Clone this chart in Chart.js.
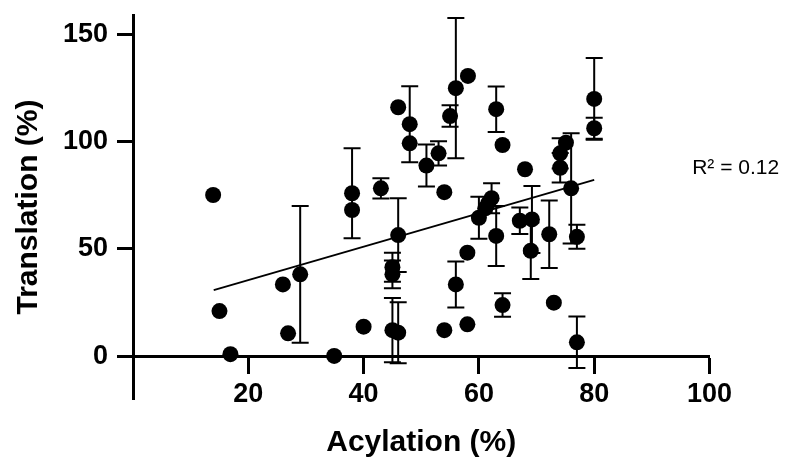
<!DOCTYPE html>
<html>
<head>
<meta charset="utf-8">
<script src="https://cdn.jsdelivr.net/npm/chart.js@4.4.1/dist/chart.umd.min.js"></script>
<style>
  html, body { margin: 0; padding: 0; background: #fff; }
  canvas { display: block; }
</style>
</head>
<body>
<canvas id="chart" width="786" height="461"></canvas>
<script>
// Acylation (%) vs translation (%), one entry per construct; error = SD of translation (0 = none drawn)
const acylation = [13.9, 15.0, 16.9, 26.0, 26.9, 29.0, 34.9, 38.0, 38.0, 40.0,
                   43.0, 45.0, 45.0, 45.0, 46.0, 46.0, 46.0, 48.0, 48.0, 50.9,
                   53.0, 54.0, 54.0, 55.0, 56.0, 56.0, 58.1, 58.0, 58.0, 60.0,
                   61.1, 61.6, 62.2, 63.0, 63.0, 64.1, 64.1, 67.1, 68.0, 69.2,
                   69.0, 72.2, 73.0, 74.1, 74.1, 75.1, 76.0, 77.0, 77.0, 80.0, 80.0];
const translation = [75.1, 21.0, 0.9, 33.4, 10.6, 38.1, 0.1, 75.9, 68.1, 13.7,
                     78.2, 41.4, 38.1, 12.1, 10.9, 116.0, 56.4, 108.1, 99.2, 88.8,
                     94.5, 76.4, 12.1, 111.9, 124.9, 33.4, 130.6, 48.2, 14.8, 64.5,
                     68.9, 71.2, 73.6, 115.1, 56.0, 98.4, 23.8, 63.1, 87.1, 63.7,
                     49.1, 56.8, 24.9, 94.5, 87.8, 99.5, 78.2, 55.6, 6.4, 119.9, 106.2];
const translationErr = [0, 0, 0, 0, 0, 31.9, 0, 21.0, 0, 0,
                        4.7, 6.8, 6.5, 15.0, 14.2, 0, 17.2, 17.7, 0, 9.8,
                        5.6, 0, 0, 5.0, 32.7, 10.7, 0, 0, 0, 9.8,
                        0, 0, 7.0, 10.6, 14.0, 0, 5.5, 6.2, 0, 15.6,
                        13.2, 15.7, 0, 7.0, 6.9, 0, 25.7, 5.6, 12.0, 19.0, 4.9];

// Linear fit endpoints
const fitX = [14, 80];
const fitY = [30.8, 82.1];

const xTicks = [20, 40, 60, 80, 100];
const yTicks = [0, 50, 100, 150];
const r2Text = 'R\u00B2 = 0.12';

Chart.defaults.font.family = '"Liberation Sans", Arial, Helvetica, sans-serif';
Chart.defaults.color = '#000';

// Vertical error bars with caps, drawn underneath the points
const errorBars = {
  id: 'errorBars',
  beforeDatasetsDraw(chart) {
    const { ctx, scales: { x, y } } = chart;
    const cap = 8.5;
    ctx.save();
    ctx.strokeStyle = '#000';
    ctx.lineWidth = 2;
    acylation.forEach((a, i) => {
      const e = translationErr[i];
      if (!e) return;
      const px = x.getPixelForValue(a);
      const top = y.getPixelForValue(translation[i] + e);
      const bot = y.getPixelForValue(translation[i] - e);
      ctx.beginPath();
      ctx.moveTo(px, top); ctx.lineTo(px, bot);
      ctx.moveTo(px - cap, top); ctx.lineTo(px + cap, top);
      ctx.moveTo(px - cap, bot); ctx.lineTo(px + cap, bot);
      ctx.stroke();
    });
    ctx.restore();
  }
};

// Goodness-of-fit annotation
const r2Label = {
  id: 'r2Label',
  afterDraw(chart) {
    const { ctx, scales: { x, y } } = chart;
    ctx.save();
    ctx.fillStyle = '#000';
    ctx.font = '21px "Liberation Sans", Arial, sans-serif';
    ctx.textAlign = 'left';
    ctx.textBaseline = 'middle';
    ctx.fillText(r2Text, x.getPixelForValue(97), y.getPixelForValue(87.7));
    ctx.restore();
  }
};

new Chart(document.getElementById('chart'), {
  type: 'scatter',
  data: {
    datasets: [
      {
        type: 'scatter',
        data: acylation.map((a, i) => ({ x: a, y: translation[i] })),
        backgroundColor: '#000',
        borderColor: '#000',
        pointRadius: 8,
        pointBorderWidth: 0,
        order: 1
      },
      {
        type: 'line',
        data: fitX.map((v, i) => ({ x: v, y: fitY[i] })),
        borderColor: '#000',
        borderWidth: 1.8,
        pointRadius: 0,
        fill: false,
        order: 2
      }
    ]
  },
  options: {
    responsive: false,
    animation: false,
    layout: { padding: { top: 15, bottom: 62, left: 0, right: 76.5 } },
    plugins: { legend: { display: false }, tooltip: { enabled: false } },
    scales: {
      x: {
        type: 'linear',
        min: 0,
        max: 100,
        position: { y: 0 },
        afterBuildTicks: s => { s.ticks = xTicks.map(v => ({ value: v })); },
        afterFit: s => { s.paddingLeft = 0; s.paddingRight = 0; s.paddingTop = 0; s.paddingBottom = 0; },
        grid: { drawOnChartArea: false, drawTicks: true, tickLength: 16, tickWidth: 3, tickColor: '#000' },
        border: { display: true, width: 3, color: '#000' },
        ticks: { color: '#000', font: { size: 27, weight: 'bold' }, padding: 6, maxRotation: 0, autoSkip: false },
        title: { display: true, text: 'Acylation (%)', color: '#000', font: { size: 30, weight: 'bold' }, padding: { top: 8, bottom: 0 } }
      },
      y: {
        type: 'linear',
        min: -20,
        max: 159,
        position: 'left',
        afterBuildTicks: s => { s.ticks = yTicks.map(v => ({ value: v })); },
        afterFit: s => { s.width = 133; s.paddingTop = 0; s.paddingBottom = 0; },
        grid: { drawOnChartArea: false, drawTicks: true, tickLength: 16, tickWidth: 3, tickColor: '#000' },
        border: { display: true, width: 3, color: '#000' },
        ticks: { color: '#000', font: { size: 27, weight: 'bold' }, padding: 9 },
        title: { display: true, text: 'Translation (%)', color: '#000', font: { size: 30, weight: 'bold' }, padding: { top: 11, bottom: 0 } }
      }
    }
  },
  plugins: [errorBars, r2Label]
});
</script>
</body>
</html>
